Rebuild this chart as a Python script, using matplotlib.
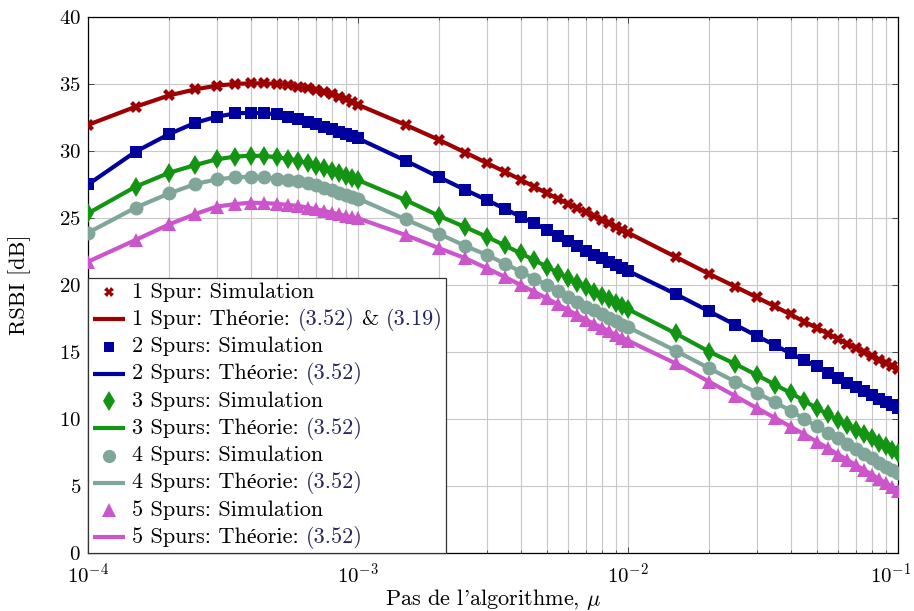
"""RSBI en fonction du pas de l'algorithme, pour 1 à 5 spurs."""

import matplotlib

matplotlib.use("Agg")

import matplotlib.pyplot as plt  # noqa: E402
import matplotlib.transforms as mtransforms  # noqa: E402
import numpy as np  # noqa: E402
from matplotlib.lines import Line2D  # noqa: E402
from matplotlib.offsetbox import (  # noqa: E402
    AnchoredOffsetbox,
    DrawingArea,
    HPacker,
    TextArea,
    VPacker,
)

# Pas mu : 1, 1.5, 2, ..., 9.5 sur trois décades, plus 1e-1
mu_steps = [1, 1.5, 2, 2.5, 3, 3.5, 4, 4.5, 5, 5.5, 6, 6.5, 7, 7.5, 8, 8.5, 9, 9.5]
mu_decades = [1e-4, 1e-3, 1e-2]
mu = [m * d for d in mu_decades for m in mu_steps] + [1e-1]

rsbi_1 = [
    31.95, 33.30, 34.15, 34.60, 34.88, 35.00, 35.05, 35.05, 35.00, 34.92,
    34.80, 34.68, 34.55, 34.40, 34.23, 34.05, 33.86, 33.66,
    33.45, 31.95, 30.82, 29.88, 29.10, 28.45, 27.86, 27.33, 26.85, 26.44,
    26.07, 25.73, 25.42, 25.12, 24.85, 24.59, 24.35, 24.12,
    23.90, 22.10, 20.82, 19.87, 19.08, 18.40, 17.80, 17.26, 16.80, 16.37,
    15.97, 15.61, 15.28, 14.97, 14.68, 14.41, 14.16, 13.92,
    13.70,
]
rsbi_2 = [
    27.50, 29.95, 31.27, 32.11, 32.56, 32.80, 32.86, 32.82, 32.74, 32.57,
    32.38, 32.20, 32.01, 31.82, 31.62, 31.44, 31.27, 31.10,
    30.94, 29.28, 28.04, 27.09, 26.34, 25.68, 25.10, 24.60, 24.12, 23.66,
    23.25, 22.90, 22.56, 22.26, 21.99, 21.73, 21.49, 21.26,
    21.05, 19.33, 18.03, 17.02, 16.20, 15.50, 14.90, 14.38, 13.92, 13.47,
    13.05, 12.70, 12.37, 12.07, 11.79, 11.52, 11.26, 11.02,
    10.80,
]
rsbi_3 = [
    25.35, 27.34, 28.38, 28.96, 29.38, 29.58, 29.65, 29.63, 29.53, 29.42,
    29.28, 29.08, 28.88, 28.70, 28.53, 28.33, 28.13, 27.98,
    27.83, 26.34, 25.15, 24.31, 23.60, 22.95, 22.37, 21.85, 21.37, 20.92,
    20.50, 20.15, 19.83, 19.50, 19.20, 18.93, 18.67, 18.43,
    18.20, 16.39, 15.02, 14.10, 13.28, 12.57, 11.95, 11.35, 10.82, 10.35,
    9.93, 9.54, 9.18, 8.86, 8.56, 8.24, 7.95, 7.68,
    7.44,
]
rsbi_4 = [
    23.90, 25.77, 26.84, 27.54, 27.88, 28.03, 28.08, 28.03, 27.93, 27.85,
    27.75, 27.60, 27.45, 27.27, 27.09, 26.90, 26.72, 26.58,
    26.45, 24.90, 23.81, 22.91, 22.24, 21.60, 21.00, 20.48, 20.00, 19.55,
    19.13, 18.75, 18.38, 18.10, 17.82, 17.55, 17.28, 17.05,
    16.85, 15.10, 13.78, 12.78, 11.96, 11.25, 10.62, 10.00, 9.45, 8.98,
    8.56, 8.14, 7.76, 7.40, 7.07, 6.75, 6.45, 6.20,
    5.95,
]
rsbi_5 = [
    21.74, 23.36, 24.53, 25.30, 25.85, 26.04, 26.14, 26.12, 26.05, 25.98,
    25.90, 25.78, 25.65, 25.52, 25.40, 25.27, 25.15, 25.05,
    24.98, 23.73, 22.74, 21.99, 21.25, 20.60, 20.00, 19.48, 19.01, 18.55,
    18.13, 17.75, 17.39, 17.10, 16.82, 16.54, 16.27, 16.05,
    15.85, 14.15, 12.78, 11.70, 10.82, 10.08, 9.43, 8.85, 8.31, 7.82,
    7.35, 6.93, 6.55, 6.19, 5.85, 5.52, 5.22, 4.93,
    4.65,
]

series_labels = ["1 Spur", "2 Spurs", "3 Spurs", "4 Spurs", "5 Spurs"]
theory_refs = [["(3.52)", "&", "(3.19)"], ["(3.52)"], ["(3.52)"], ["(3.52)"], ["(3.52)"]]
series_values = [rsbi_1, rsbi_2, rsbi_3, rsbi_4, rsbi_5]

COLORS = ["#9c0000", "#00009c", "#139413", "#7fa699", "#cc55cc"]
# (marqueur, taille sur la courbe, taille dans la légende)
MARKERS = [("X", 8.5, 7.0), ("s", 8.5, 7.0), ("d", 10.0, 10.5), ("o", 10.0, 9.5), ("^", 10.0, 10.0)]
REF_COLOR = "#26265a"
# cmr10 n'a pas de « é » : repli sur une police à empattements plus fine
FONT = ["cmr10", "Liberation Serif"]
FS = 16
TICK_FS = 15

plt.rcParams["font.family"] = FONT
plt.rcParams["mathtext.fontset"] = "cm"
plt.rcParams["axes.formatter.use_mathtext"] = True

fig = plt.figure(figsize=(9.14, 6.11), dpi=100)
ax = fig.add_axes([0.0963, 0.0949, 0.8862, 0.8773])

for values, color, (marker, size, _) in zip(series_values, COLORS, MARKERS):
    y = np.array(values)
    ax.plot(mu, y, color=color, lw=3.0, zorder=3, solid_capstyle="butt")
    ax.plot(mu, y, ls="none", marker=marker, ms=size, mew=0, color=color, zorder=4)

ax.set_xscale("log")
ax.set_xlim(1e-4, 1e-1)
ax.set_ylim(0, 40)
ax.set_yticks(np.arange(0, 41, 5))
ax.grid(True, which="major", color="#c8c8c8", lw=0.8)
ax.grid(True, which="minor", axis="x", color="#c8c8c8", lw=0.8)
ax.set_axisbelow(True)
ax.tick_params(which="both", direction="in", top=True, right=True, labelsize=TICK_FS,
               color="#444444")
ax.tick_params(which="major", length=4, width=0.7, pad=5)
ax.tick_params(axis="x", which="major", pad=7)
ax.tick_params(which="minor", length=2.5, width=0.6)
for spine in ax.spines.values():
    spine.set_linewidth(0.9)

ax.set_xlabel("Pas de l'algorithme, $\\mu$", fontsize=FS, labelpad=0)
ax.set_ylabel("RSBI [dB]", fontsize=FS, labelpad=20)

# Le dernier libellé (10^-1) est légèrement décalé pour rester dans l'image
fig.canvas.draw()
last_label = ax.get_xticklabels()[-1]
for lbl in ax.get_xticklabels():
    if lbl.get_position()[0] == 1e-1:
        last_label = lbl
last_label.set_transform(last_label.get_transform()
                         + mtransforms.ScaledTranslation(-5 / 72, 0, fig.dpi_scale_trans))

# Légende construite à la main : les renvois d'équation sont en bleu foncé
rows = []
text_props = dict(fontsize=FS, color="black", family=FONT)
ref_props = dict(fontsize=FS, color=REF_COLOR, family=FONT)
for label, refs, color, (marker, _, leg_size) in zip(series_labels, theory_refs, COLORS, MARKERS):
    da_sim = DrawingArea(24, 12, 0, 0)
    da_sim.add_artist(Line2D([12], [6], marker=marker, ls="none", color=color, mew=0,
                             ms=leg_size))
    rows.append(HPacker(children=[da_sim, TextArea(f"{label}: Simulation", textprops=text_props)],
                        sep=5, align="center", pad=0))

    da_th = DrawingArea(24, 12, 0, 0)
    da_th.add_artist(Line2D([0.5, 23.5], [6, 6], color=color, lw=3.0, solid_capstyle="butt"))
    pieces = [TextArea(f"{label}: Théorie:", textprops=text_props)]
    for ref in refs:
        pieces.append(TextArea(ref, textprops=text_props if ref == "&" else ref_props))
    text_row = HPacker(children=pieces, sep=5, align="baseline", pad=0)
    rows.append(HPacker(children=[da_th, text_row], sep=5, align="center", pad=0))

legend_box = VPacker(children=rows, sep=4.3, align="left", pad=0)
anchored = AnchoredOffsetbox(loc="lower left", child=legend_box, pad=0.3, borderpad=0,
                             frameon=True, bbox_to_anchor=(0, 0),
                             bbox_transform=ax.transAxes)
anchored.patch.set_edgecolor("#333333")
anchored.patch.set_linewidth(0.9)
anchored.patch.set_facecolor("white")
anchored.zorder = 5
ax.add_artist(anchored)

fig.savefig("out.png", dpi=100)
